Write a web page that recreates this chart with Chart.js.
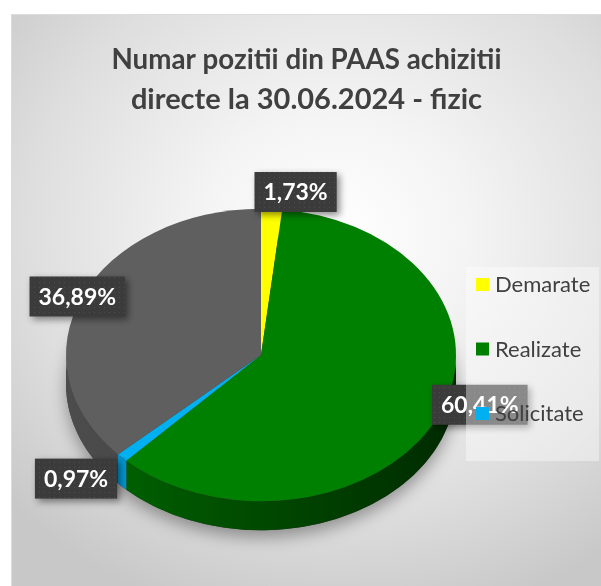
<!DOCTYPE html>
<html>
<head>
<meta charset="utf-8">
<script src="https://cdn.jsdelivr.net/npm/chart.js@4.4.1/dist/chart.umd.min.js"></script>
<style>
  html, body { margin: 0; padding: 0; background: #fff; }
  #box {
    position: absolute; left: 11px; top: 14px; width: 589px; height: 571px;
    border: 1px solid #dcdcdc;
    background: radial-gradient(ellipse 75% 70% at 55% 38%, #ffffff 0%, #f4f4f4 30%, #dedede 70%, #c8c8c8 100%);
  }
  canvas { position: absolute; left: 0; top: 0; }
</style>
</head>
<body>
<div id="box"><canvas id="chart" width="589" height="571"></canvas></div>
<script>
// date din grafic (procente)
const categories = ['Demarate', 'Realizate', 'Solicitate', ''];  // a 4-a felie nu apare in legenda
const values = [1.73, 60.41, 0.97, 36.89];
const titleLines = ['Numar pozitii din PAAS achizitii', 'directe la 30.06.2024 - fizic'];

const topColors = ['#ffff00', '#008000', '#00b0f0', '#5f5f5f'];
const sideLight = ['#d0d000', '#006800', '#0098d4', '#4c4c4c'];
const sideDark = ['#a0a000', '#002a00', '#0080b0', '#3a3a3a'];

// pozitia etichetelor fata de marginea feliei
const labelShift = [[24, -17], [42, -12], [-46, 21], [-5, 0]];

// vedere 3D: deplasare orizontala, turtire, grosime
const view = { dx: -45.5, k: 0.75, depth: 29 };

// fundal cu puncte pentru etichete
const dots = document.createElement('canvas');
dots.width = 5; dots.height = 5;
const dctx = dots.getContext('2d');
dctx.fillStyle = '#3b3b3b';
dctx.fillRect(0, 0, 5, 5);
dctx.fillStyle = '#4d4d4d';
dctx.fillRect(2, 2, 1, 1);

function drawLabels(chart) {
    const ctx = chart.ctx;
    const arcs = chart.getDatasetMeta(0).data;
    const pattern = ctx.createPattern(dots, 'repeat');
    ctx.save();
    ctx.font = 'bold 23px Lato';
    ctx.textAlign = 'center';
    ctx.textBaseline = 'middle';
    arcs.forEach((arc, i) => {
        const mid = (arc.startAngle + arc.endAngle) / 2;
        const px = arc.x + view.dx + Math.cos(mid) * arc.outerRadius + labelShift[i][0];
        const py = arc.y + Math.sin(mid) * arc.outerRadius * view.k + labelShift[i][1];
        const text = values[i].toFixed(2).replace('.', ',') + '%';
        const w = ctx.measureText(text).width + 18;
        const h = 40;
        ctx.save();
        ctx.shadowColor = 'rgba(0,0,0,0.45)';
        ctx.shadowBlur = 7;
        ctx.shadowOffsetX = 3;
        ctx.shadowOffsetY = 3;
        ctx.fillStyle = pattern;
        ctx.fillRect(px - w / 2, py - h / 2, w, h);
        ctx.restore();
        ctx.fillStyle = '#ffffff';
        ctx.fillText(text, px, py + 1);
    });
    ctx.restore();
}

function drawLegend(chart) {
    const ctx = chart.ctx;
    ctx.save();
    ctx.fillStyle = 'rgba(255,255,255,0.4)';
    ctx.fillRect(454, 252, 133, 194);
    ctx.font = '22px Lato';
    ctx.textBaseline = 'middle';
    let y = 270;
    categories.forEach((name, i) => {
        if (!name) return;
        ctx.fillStyle = topColors[i];
        ctx.fillRect(464, y - 7, 13, 13);
        ctx.fillStyle = '#404040';
        ctx.fillText(name, 483, y);
        y += 64.5;
    });
    ctx.restore();
}

const pie3d = {
    id: 'pie3d',
    beforeDatasetsDraw(chart) {
        const ctx = chart.ctx;
        const arcs = chart.getDatasetMeta(0).data;
        const x = arcs[0].x, y = arcs[0].y, r = arcs[0].outerRadius;
        const cx = x + view.dx, ry = r * view.k;

        // umbra de sub placinta
        ctx.save();
        ctx.shadowColor = 'rgba(0,0,0,0.35)';
        ctx.shadowBlur = 16;
        ctx.shadowOffsetY = 7;
        ctx.fillStyle = '#3a3a3a';
        ctx.beginPath();
        ctx.ellipse(cx, y + view.depth, r, ry, 0, 0, Math.PI * 2);
        ctx.fill();
        ctx.restore();

        // peretii laterali vizibili (partea din fata)
        arcs.forEach((arc, i) => {
            const s = Math.max(arc.startAngle, 0);
            const e = Math.min(arc.endAngle, Math.PI);
            if (e <= s) return;
            const g = ctx.createLinearGradient(cx - r, 0, cx + r, 0);
            g.addColorStop(0, sideLight[i]);
            g.addColorStop(1, sideDark[i]);
            ctx.fillStyle = g;
            ctx.beginPath();
            ctx.ellipse(cx, y, r, ry, 0, s, e);
            ctx.ellipse(cx, y + view.depth, r, ry, 0, e, s, true);
            ctx.closePath();
            ctx.fill();
        });

        // fata de sus: turtita
        ctx.save();
        ctx.translate(cx, y);
        ctx.scale(1, view.k);
        ctx.translate(-x, -y);
    },
    afterDatasetsDraw(chart) {
        chart.ctx.restore();
        drawLabels(chart);
        drawLegend(chart);
    }
};

new Chart(document.getElementById('chart'), {
    type: 'pie',
    data: {
        labels: categories,
        datasets: [{
            data: values,
            backgroundColor: topColors,
            borderWidth: 0
        }]
    },
    options: {
        responsive: false,
        animation: false,
        devicePixelRatio: 1,
        layout: { padding: { left: 99.5, right: 99.5, top: 0, bottom: 8 } },
        plugins: {
            legend: { display: false },
            tooltip: { enabled: false },
            title: {
                display: true,
                text: titleLines,
                color: '#404040',
                font: { family: 'Lato', size: 29, weight: 'bold', lineHeight: 1.38 },
                padding: { top: 25, bottom: 12 }
            }
        }
    },
    plugins: [pie3d]
});
</script>
</body>
</html>
